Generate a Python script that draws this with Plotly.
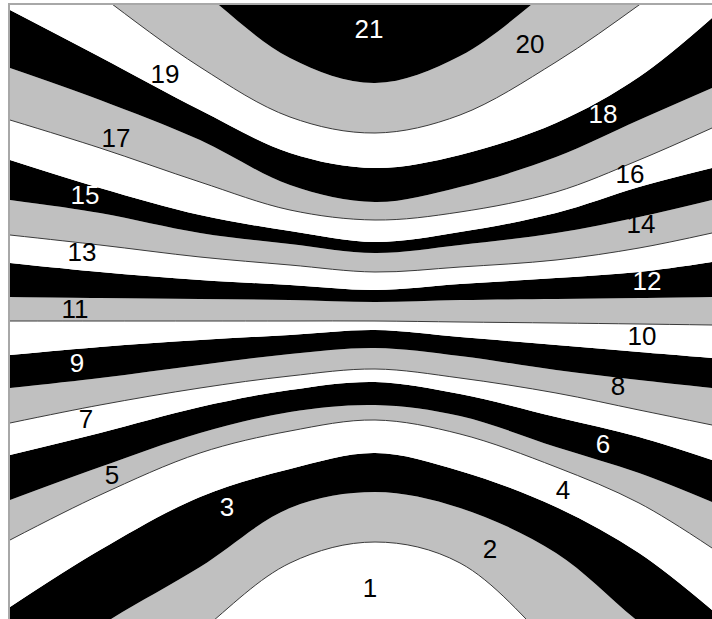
import plotly.graph_objects as go

# x positions (pixel-like data units) at which each boundary is sampled
X = [10, 100, 200, 290, 375, 460, 556, 639, 712]

# boundary k separates band k (below) and band k+1 (above); y measured downward
B0 = [900] * 9                                           # bottom sentinel
B1 = [810, 720, 632, 563, 542, 563, 650, 740, 820]
B2 = [690, 626, 567, 508, 492, 508, 553, 622, 675]
B3 = [607, 550, 497, 469, 453, 471, 507, 553, 610]
B4 = [540, 495, 453, 431, 420, 434, 467, 503, 548]
B5 = [500, 467, 433, 412, 405, 416, 447, 473, 502]
B6 = [455, 433, 407, 390, 382, 394, 417, 437, 460]
B7 = [423, 405, 388, 376, 369, 378, 393, 410, 425]
B8 = [388, 378, 365, 354, 348, 356, 370, 380, 388]
B9 = [355, 347, 340, 335, 330, 337, 345, 352, 358]
B10 = [321, 321, 321, 321, 321, 322, 323, 324, 325]
B11 = [297, 298, 299, 300, 302, 300, 299, 298, 297]
B12 = [263, 272, 280, 285, 290, 284, 278, 272, 262]
B13 = [235, 245, 257, 265, 272, 267, 260, 248, 233]
B14 = [200, 213, 233, 244, 253, 245, 233, 217, 200]
B15 = [160, 188, 215, 231, 242, 232, 213, 187, 168]
B16 = [120, 148, 182, 210, 220, 212, 192, 160, 128]
B17 = [68, 100, 140, 185, 202, 187, 157, 120, 88]
B18 = [10, 57, 110, 153, 168, 155, 123, 77, 18]
B19 = [-75, -5, 67, 117, 133, 115, 62, 5, -50]
B20 = [-160, -85, -10, 58, 83, 56, -15, -80, -140]
B21 = [-250] * 9                                         # top sentinel

BOUNDARIES = [B0, B1, B2, B3, B4, B5, B6, B7, B8, B9, B10,
              B11, B12, B13, B14, B15, B16, B17, B18, B19, B20, B21]
LINED = [1, 4, 7, 10, 13, 16, 19]   # boundaries drawn with a thin line

BAND_COLORS = ["#ffffff", "#c0c0c0", "#000000"]  # band 1 white, 2 gray, 3 black, ...

LABEL_TEXT = [str(i) for i in range(1, 22)]
LABEL_X = [370, 490, 227, 563, 112, 603, 86, 618, 77, 642, 75,
           647, 82, 641, 85, 630, 116, 603, 165, 530, 369]
LABEL_Y = [590, 551, 509, 492, 477, 446, 421, 388, 365, 338, 311,
           283, 254, 226, 197, 176, 140, 116, 76, 46, 31]

fig = go.Figure()

fig.add_trace(go.Scatter(x=X, y=BOUNDARIES[0], mode="lines",
                         line=dict(width=0, shape="spline"), hoverinfo="skip"))
for k in range(1, 22):
    col = BAND_COLORS[(k - 1) % 3]
    fig.add_trace(go.Scatter(x=X, y=BOUNDARIES[k], mode="lines",
                             line=dict(width=0, shape="spline", color=col),
                             fill="tonexty", fillcolor=col, hoverinfo="skip"))

for k in LINED:
    fig.add_trace(go.Scatter(x=X, y=BOUNDARIES[k], mode="lines",
                             line=dict(width=1, shape="spline", color="#3a3a3a"),
                             hoverinfo="skip"))

label_colors = ["#ffffff" if (i % 3 == 0) else "#000000" for i in range(1, 22)]
fig.add_trace(go.Scatter(x=LABEL_X, y=LABEL_Y, mode="text", text=LABEL_TEXT,
                         textposition="middle center",
                         textfont=dict(family="Liberation Sans, Arial", size=26,
                                       color=label_colors),
                         hoverinfo="skip"))

fig.update_layout(
    width=712, height=619,
    margin=dict(l=10, r=0, t=5, b=0, pad=0),
    showlegend=False,
    plot_bgcolor="#ffffff", paper_bgcolor="#ffffff",
    xaxis=dict(range=[10, 712], showgrid=False, zeroline=False, showticklabels=False,
               ticks="", showline=True, side="top", linecolor="#a8a8a8", linewidth=2),
    yaxis=dict(range=[619, 5], showgrid=False, zeroline=False, showticklabels=False,
               ticks="", showline=True, side="left", linecolor="#a8a8a8", linewidth=2),
)

fig.write_html("out.html", config={"displayModeBar": False},
               post_script="document.body.style.margin='0';document.body.style.overflow='hidden';")
